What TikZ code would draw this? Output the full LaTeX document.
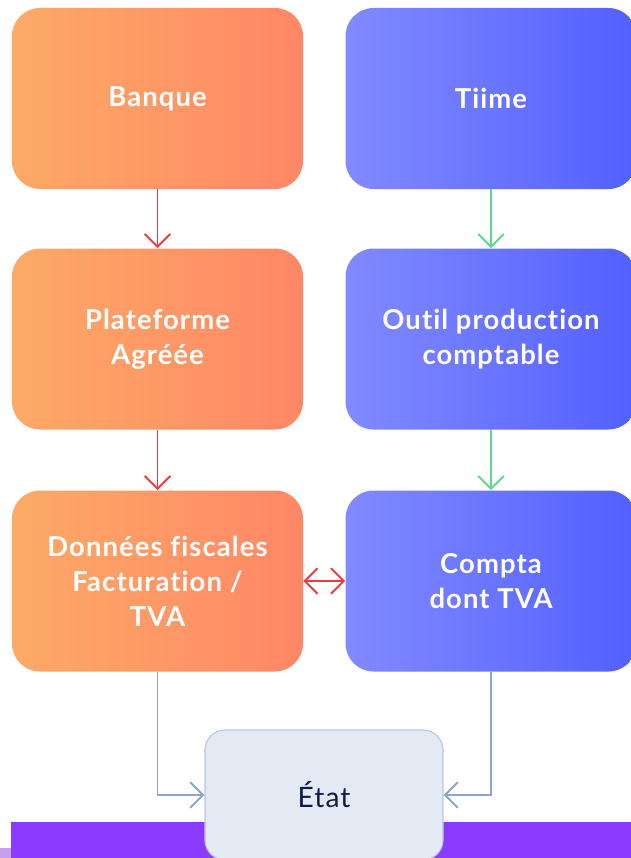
\documentclass[tikz,border=0pt]{standalone}
\usepackage{fontspec}
\setmainfont{Lato}[Ligatures=NoCommon, LetterSpace=4]
\usetikzlibrary{arrows.meta}
\definecolor{orangeL}{HTML}{FDAA66}
\definecolor{orangeR}{HTML}{FF8766}
\definecolor{blueL}{HTML}{828AFF}
\definecolor{blueR}{HTML}{5260FF}
\definecolor{flowred}{HTML}{EE3B3E}
\definecolor{flowgreen}{HTML}{5DD88D}
\definecolor{flowgray}{HTML}{8CA5C8}
\definecolor{etatfill}{HTML}{E3EAF3}
\definecolor{etatline}{HTML}{B8C8DC}
\definecolor{navy}{HTML}{0F1C45}
\definecolor{band}{HTML}{8B3BFF}
\definecolor{bandlight}{HTML}{C89EF5}
\tikzstyle{box} = [rounded corners=0.7cm, minimum width=7.275cm, minimum height=4.525cm, inner sep=0pt, align=center, text=white, font=\fontsize{19.5}{25}\selectfont\bfseries]
\tikzstyle{warm} = [box, left color=orangeL, right color=orangeR]
\tikzstyle{cool} = [box, left color=blueL, right color=blueR]
\tikzstyle{tip} = [-{Straight Barb[length=3.2mm,width=6.4mm]}]
\tikzstyle{arrow} = [tip, line width=1.4pt]

\begin{document}
\begin{tikzpicture}
        \useasboundingbox (0,0) rectangle (15.775,-21.45);
        \fill[band] (0.275,-20.55) rectangle (15.9,-21.6);
        \fill[bandlight] (-0.1,-21.2) rectangle (0.275,-21.6);

        \node[warm] at (3.9375,-2.4625) (b) {Banque};
        \node[cool] at (12.275,-2.4625) (t) {Tiime};
        \node[warm] at (3.9375,-8.475) (p) {Plateforme\\Agréée};
        \node[cool] at (12.275,-8.475) (o) {Outil production\\comptable};
        \node[warm] at (3.9375,-14.525) (d) {Données fiscales\\Facturation /\\TVA};
        \node[cool] at (12.275,-14.525) (c) {Compta\\dont TVA};
        \node[draw=etatline, fill=etatfill, line width=0.8pt, rounded corners=0.5cm, minimum width=5.95cm, minimum height=3.25cm, text=navy, font=\fontsize{20}{25}\selectfont] at (8.1,-19.875) (e) {État};

        \draw[flowred, arrow] (b) -- (p);
        \draw[flowred, arrow] (p) -- (d);
        \draw[flowgreen, arrow] (t) -- (o);
        \draw[flowgreen, arrow] (o) -- (c);
        \draw[flowred, line width=1.4pt, {Straight Barb[length=3.2mm,width=6.4mm]}-{Straight Barb[length=3.2mm,width=6.4mm]}] (d) -- (c);
        \draw[flowgray, arrow] (d) |- (e);
        \draw[flowgray, arrow] (c) |- (e);

      \end{tikzpicture}
\end{document}
